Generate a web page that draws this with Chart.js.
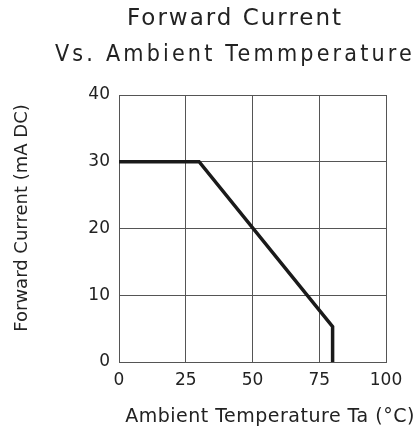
<!DOCTYPE html>
<html>
<head>
<meta charset="utf-8">
<script src="https://cdn.jsdelivr.net/npm/chart.js@4"></script>
<style>
html,body{margin:0;padding:0;background:#fff;}
canvas{display:block;}
</style>
</head>
<body>
<canvas id="c" width="415" height="432"></canvas>
<script>
// ---- data ----
const temperatureC = [0, 30, 80, 80];
const forwardCurrentMA = [30, 30, 5.3, 0];
const xTickValues = [0, 25, 50, 75, 100];
const yTickValues = [0, 10, 20, 30, 40];
const chartTitle = 'Forward Current';
const chartSubtitle = 'Vs. Ambient Temmperature';
const xAxisTitle = 'Ambient Temperature Ta (\u00B0C)';
const yAxisTitle = 'Forward Current (mA DC)';

const FONT = '"DejaVu Sans", sans-serif';
const TEXT = '#222';
const GRID = '#555';

const points = temperatureC.map((t, i) => ({x: t, y: forwardCurrentMA[i]}));

// letter spacing for the title blocks (reference uses a wide CAD-like font)
const spacingFor = {};
spacingFor[chartTitle] = '2px';
spacingFor[chartSubtitle] = '3.5px';
(function patchTitle() {
  const TitleEl = Chart.Title && Chart.Title._element;
  if (!TitleEl || TitleEl.prototype._patched) return;
  const orig = TitleEl.prototype.draw;
  TitleEl.prototype.draw = function() {
    const ctx = this.ctx;
    ctx.save();
    const txt = this.options && this.options.text;
    ctx.letterSpacing = spacingFor[txt] || '0px';
    orig.apply(this, arguments);
    ctx.restore();
  };
  TitleEl.prototype._patched = true;
})();

const axisTitles = {
  id: 'axisTitles',
  afterDraw(chart) {
    const ctx = chart.ctx;
    ctx.save();
    ctx.fillStyle = TEXT;
    ctx.textAlign = 'center';
    ctx.textBaseline = 'alphabetic';
    ctx.font = '19px ' + FONT;
    ctx.letterSpacing = '0.5px';
    ctx.fillText(xAxisTitle, 270, 422);
    ctx.font = '18px ' + FONT;
    ctx.letterSpacing = '0px';
    ctx.translate(27, 218);
    ctx.rotate(-Math.PI / 2);
    ctx.fillText(yAxisTitle, 0, 0);
    ctx.restore();
  }
};

new Chart(document.getElementById('c'), {
  type: 'line',
  data: {
    datasets: [{
      data: points,
      borderColor: '#1a1a1a',
      borderWidth: 3.5,
      pointRadius: 0,
      tension: 0,
      fill: false,
      borderJoinStyle: 'miter'
    }]
  },
  options: {
    responsive: false,
    animation: false,
    layout: {padding: {left: 55, right: 0, top: 0, bottom: 0}},
    plugins: {
      legend: {display: false},
      tooltip: {enabled: false},
      title: {
        display: true,
        text: chartTitle,
        color: TEXT,
        font: {family: FONT, size: 23, weight: 'normal', lineHeight: '36px'},
        padding: {top: 1, bottom: 0}
      },
      subtitle: {
        display: true,
        text: chartSubtitle,
        color: TEXT,
        font: {family: FONT, size: 23, weight: 'normal', lineHeight: '36px'},
        padding: {top: 0, bottom: 22}
      }
    },
    scales: {
      x: {
        type: 'linear',
        min: 0, max: 100,
        afterFit(s) { s.height = 70; s.paddingRight = 29; },
        afterBuildTicks(s) { s.ticks = xTickValues.map(v => ({value: v})); },
        grid: {color: GRID, lineWidth: 1, drawTicks: false},
        border: {color: GRID, width: 1},
        ticks: {color: TEXT, padding: 8, font: {family: FONT, size: 17}, maxRotation: 0}
      },
      y: {
        type: 'linear',
        min: 0, max: 40,
        afterFit(s) { s.width = 64; },
        afterBuildTicks(s) { s.ticks = yTickValues.map(v => ({value: v})); },
        grid: {color: GRID, lineWidth: 1, drawTicks: false},
        border: {color: GRID, width: 1},
        ticks: {color: TEXT, padding: 9, font: {family: FONT, size: 17}}
      }
    }
  },
  plugins: [axisTitles]
});
</script>
</body>
</html>
